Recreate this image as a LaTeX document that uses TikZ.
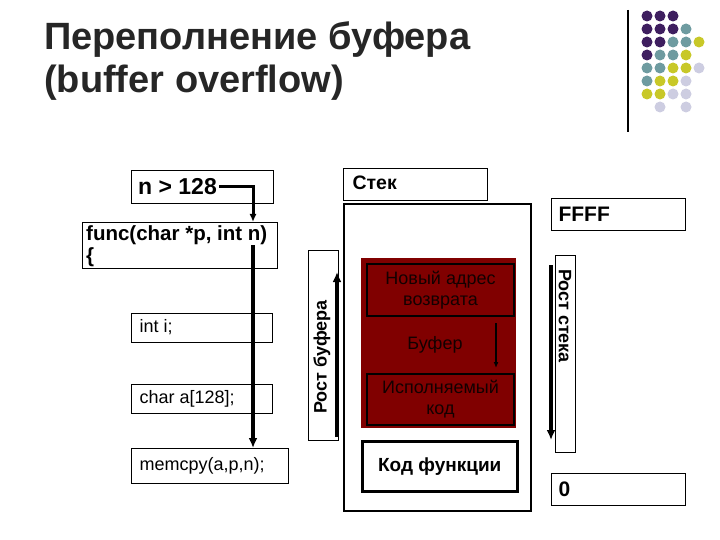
\documentclass[tikz,border=0pt]{standalone}
\usepackage{fontspec}
\setmainfont{Liberation Sans}
\begin{document}
\begin{tikzpicture}[x=1pt,y=-1pt,
 bx/.style={draw,line width=0.8pt,anchor=north west,inner sep=0pt},
 arr/.style={line width=3.5pt,-{Latex[length=10pt,width=9pt]}},
 dot/.style={circle,inner sep=0pt,minimum size=11pt}]
\usetikzlibrary{arrows.meta}
\useasboundingbox (0,0) rectangle (720,540);
\definecolor{dred}{RGB}{128,0,0}
\definecolor{cP}{RGB}{62,30,95}\definecolor{cT}{RGB}{110,155,160}
\definecolor{cY}{RGB}{200,200,40}\definecolor{cL}{RGB}{205,205,225}
% title
\node[anchor=north west,align=left,font=\fontsize{38}{43}\selectfont\bfseries,text=black!85,inner sep=0pt] (title) at (44,21) {Переполнение буфера\\(buffer overflow)};
\draw[line width=1.2pt] (628,10) -- (628,132);
\foreach \x/\y/\cc in {0/0/cP,1/0/cP,2/0/cP,
 0/1/cP,1/1/cP,2/1/cP,3/1/cT,
 0/2/cP,1/2/cP,2/2/cT,3/2/cT,4/2/cY,
 0/3/cP,1/3/cT,2/3/cT,3/3/cY,
 0/4/cT,1/4/cT,2/4/cY,3/4/cY,4/4/cL,
 0/5/cT,1/5/cY,2/5/cY,3/5/cL,
 0/6/cY,1/6/cY,2/6/cL,3/6/cL,
 1/7/cL,3/7/cL}
 \node[dot,fill=\cc] (d\x\y) at (647+13*\x,16+13*\y) {};
% left code boxes
\node[bx,minimum width=142pt,minimum height=33pt] (n) at (131,170) {};
\node[anchor=west,font=\fontsize{23}{26}\selectfont\bfseries,inner sep=2pt] (nt) at (136,187) {n > 128};
\node[bx,minimum width=195pt,minimum height=46pt] (f) at (82,222) {};
\node[anchor=north west,align=left,font=\fontsize{20.5}{22}\selectfont\bfseries,inner sep=0pt] (ft) at (86,225) {func(char *p, int n)\\\{};
\node[bx,minimum width=141pt,minimum height=29pt] (i) at (131,313) {};
\node[anchor=west,font=\fontsize{18}{20}\selectfont] (it) at (136,327.5) {int i;};
\node[bx,minimum width=141pt,minimum height=29pt] (c) at (131,384) {};
\node[anchor=west,font=\fontsize{18}{20}\selectfont] (ct) at (136,398.5) {char a[128];};
\node[bx,minimum width=157pt,minimum height=35pt] (m) at (131,448) {};
\node[anchor=west,font=\fontsize{18}{20}\selectfont] (mt) at (136,465.5) {memcpy(a,p,n);};
\coordinate (c1) at (253,187);
\coordinate (c2) at (253,222);
\coordinate (c3) at (253,245);
\coordinate (c4) at (253,448);
\draw[line width=3pt,-{Latex[length=8pt,width=7pt]}] (nt.east) -- (c1) -- (c2);
\draw[arr] (c3) -- (c4);
% buffer growth
\node[bx,minimum width=30pt,minimum height=190pt] (rb) at (308,250) {};
\node[rotate=90,font=\fontsize{18}{20}\selectfont\bfseries] (rbt) at (322,357) {Рост буфера};
\coordinate (b1) at (337,437);\coordinate (b2) at (337,272);
\draw[arr] (b1) -- (b2);
% stack
\node[bx,minimum width=144pt,minimum height=32pt] (st) at (343,168) {};
\node[anchor=west,font=\fontsize{19.5}{21}\selectfont\bfseries] (stt) at (349,183) {Стек};
\draw[line width=2.5pt] (344,204) rectangle (531,511);
\fill[dred] (361,258) rectangle (516,428);
\node[draw=black,line width=2pt,fill=dred,anchor=north west,minimum width=147pt,minimum height=52pt,align=center,text=black!85!dred,font=\fontsize{18}{21}\selectfont] (na) at (366,263) {Новый адрес\\возврата};
\node[font=\fontsize{18}{20}\selectfont,text=black!85!dred] (bu) at (435,345) {Буфер};
\coordinate (s1) at (496,323);\coordinate (s2) at (496,368);
\draw[line width=2pt,-{Latex[length=6pt,width=5pt]}] (s1) -- (s2);
\node[draw=black,line width=2pt,fill=dred,anchor=north west,minimum width=147pt,minimum height=51pt,align=center,text=black!85!dred,font=\fontsize{18}{21}\selectfont] (ex) at (366,373) {Исполняемый\\код};
\node[draw,line width=2.5pt,anchor=north west,minimum width=155pt,minimum height=50pt,font=\fontsize{19}{21}\selectfont\bfseries] (kf) at (361,440) {Код функции};
% right
\node[bx,minimum width=134pt,minimum height=32pt] (ff) at (551,198) {};
\node[anchor=west,font=\fontsize{21}{23}\selectfont\bfseries] (fft) at (555,214) {FFFF};
\node[bx,minimum width=20pt,minimum height=197pt] (rs) at (555,255) {};
\node[rotate=-90,font=\fontsize{18}{20}\selectfont\bfseries] (rst) at (565,316) {Рост стека};
\coordinate (r1) at (551,265);\coordinate (r2) at (551,440);
\draw[arr] (r1) -- (r2);
\node[bx,minimum width=134pt,minimum height=32pt] (z) at (551,473) {};
\node[anchor=west,font=\fontsize{21}{23}\selectfont\bfseries] (zt) at (555,489) {0};
\end{tikzpicture}
\end{document}
